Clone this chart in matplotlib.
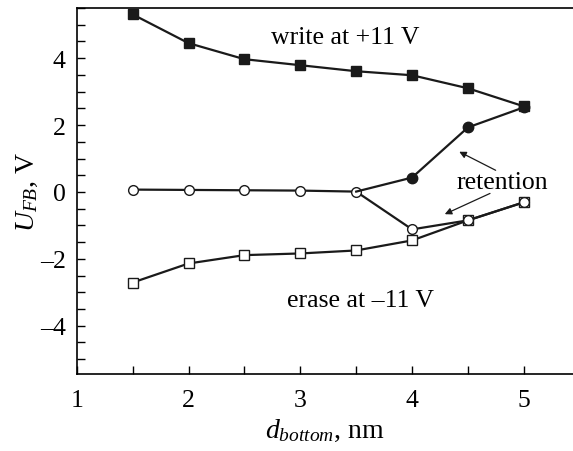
import numpy as np
import matplotlib
matplotlib.use('Agg')
import matplotlib.pyplot as plt
from matplotlib.ticker import MultipleLocator

plt.rcParams['font.family'] = 'Liberation Serif'
plt.rcParams['mathtext.fontset'] = 'custom'
plt.rcParams['mathtext.rm'] = 'Liberation Serif'
plt.rcParams['mathtext.it'] = 'Liberation Serif:italic'

# thickness of bottom oxide, nm
d = [1.5, 2.0, 2.5, 3.0, 3.5, 4.0, 4.5, 5.0]

# flat-band voltage, V
u_write = [5.31, 4.45, 3.97, 3.79, 3.61, 3.49, 3.10, 2.56]
u_erase = [-2.71, -2.14, -1.89, -1.84, -1.75, -1.45, -0.85, -0.31]
u_ret_erase = [0.07, 0.06, 0.05, 0.04, 0.01, -1.12, -0.85, -0.31]
d_ret_write = [3.5, 4.0, 4.5, 5.0]
u_ret_write = [0.01, 0.43, 1.93, 2.53]

fig = plt.figure(figsize=(5.73, 4.52), dpi=100)
ax = fig.add_axes([0.134, 0.170, 0.866, 0.810])

lw = 1.6
ax.plot(d, u_write, '-s', color='#1a1a1a', lw=lw, ms=7, mfc='#1a1a1a', zorder=3)
ax.plot(d, u_erase, '-s', color='#1a1a1a', lw=lw, ms=7, mfc='white', mew=1.0, zorder=3)
ax.plot(d, u_ret_erase, '-o', color='#1a1a1a', lw=lw, ms=7, mfc='white', mew=1.0, zorder=4)
ax.plot(d_ret_write, u_ret_write, '-o', color='#1a1a1a', lw=lw, ms=7.5,
        mfc='#1a1a1a', markevery=[1, 2, 3], zorder=4)

ax.text(3.40, 4.63, 'write at +11 V', fontsize=18.5, ha='center', va='center')
ax.text(3.54, -3.22, 'erase at \u201311 V', fontsize=18.5, ha='center', va='center')
ax.text(4.81, 0.31, 'retention', fontsize=18.5, ha='center', va='center')
arrow = dict(arrowstyle='-|>', color='#1a1a1a', lw=0.9, mutation_scale=10)
ax.annotate('', xy=(4.40, 1.24), xytext=(4.77, 0.61), arrowprops=arrow)
ax.annotate('', xy=(4.27, -0.70), xytext=(4.72, -0.01), arrowprops=arrow)

ax.set_xlim(1.02, 5.44)
ax.set_ylim(-5.45, 5.5)
ax.xaxis.set_minor_locator(MultipleLocator(0.5))
ax.yaxis.set_minor_locator(MultipleLocator(0.5))
ax.tick_params(which='both', direction='in', length=6, width=1, labelsize=18.5,
               top=False, right=False)
ax.tick_params(axis='x', pad=11)
ax.tick_params(axis='y', pad=8)
ax.spines['right'].set_visible(False)
for s in ['left', 'top', 'bottom']:
    ax.spines[s].set_linewidth(1.2)

xt = [1, 2, 3, 4, 5]
ax.set_xticks(xt)
ax.set_xticklabels([str(v) for v in xt])
yt = [-4, -2, 0, 2, 4]
ax.set_yticks(yt)
ax.set_yticklabels(['\u20134', '\u20132', '0', '2', '4'])

ax.set_xlabel('$d_{bottom}$, nm', fontsize=20, labelpad=4)
ax.set_ylabel('$U_{FB}$, V', fontsize=20, labelpad=0)

fig.savefig('out.png', dpi=100)
